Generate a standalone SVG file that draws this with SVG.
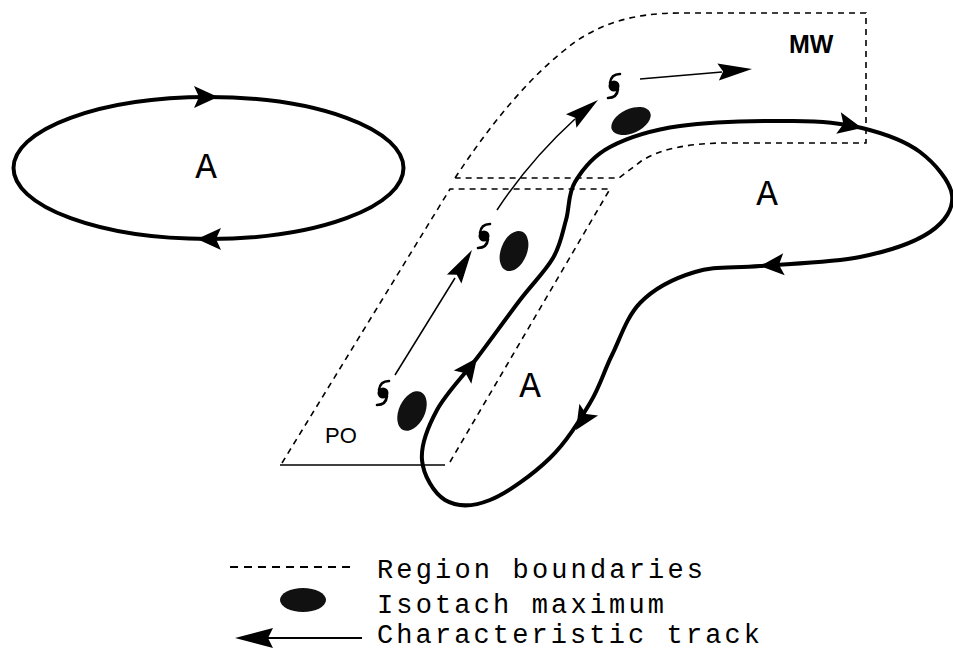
<svg xmlns="http://www.w3.org/2000/svg" xmlns:xlink="http://www.w3.org/1999/xlink" width="953" height="652" viewBox="0 0 953 652">
<style>
.track{fill:none;stroke:#000;stroke-width:4;stroke-linejoin:round;stroke-linecap:round}
.thin{fill:none;stroke:#000;stroke-width:1.5}
.dash{fill:none;stroke:#000;stroke-width:1.6;stroke-dasharray:6 5}
.solid{fill:none;stroke:#000;stroke-width:1.6}
.iso{fill:#111}
.ah{fill:#000}
.mono{font-family:"Liberation Mono","DejaVu Sans Mono",monospace;fill:#000}
.lab{font-family:"Liberation Sans",Arial,sans-serif;fill:#000}
</style>
<defs>
<path id="bigHead" d="M0,0 L-24,-11 L-19,0 L-24,11 Z"/>
<path id="thinHead" d="M0,0 L-34,-8.5 L-29,0 L-34,8.5 Z"/>
<g id="storm">
<circle cx="0" cy="0" r="5.5" fill="#000"/>
<path d="M-4,-3 Q-3,-12 6,-12" fill="none" stroke="#000" stroke-width="2.6" stroke-linecap="round"/>
<path d="M4,3 Q3,12 -6,12" fill="none" stroke="#000" stroke-width="2.6" stroke-linecap="round"/>
</g>
</defs>

<g id="regions">
<path class="dash" d="M455,178 C490,125 530,75 575,42 C600,25 630,13 680,13 L866,13 L866,143 L720,143 C690,144 660,148 640,162 L619,178 L455,178"/>
<path class="dash" d="M282,463 L450,189 L610,189 L450,462"/>
<path class="solid" d="M280,465 L445,465"/>
</g>

<g id="anticyclone-left">
<ellipse class="track" cx="208.5" cy="168" rx="195" ry="71"/>
<use xlink:href="#bigHead" class="ah" transform="translate(218,97)"/>
<use xlink:href="#bigHead" class="ah" transform="translate(197,239) rotate(180)"/>
<text class="mono" x="206" y="178" font-size="36" text-anchor="middle">A</text>
</g>

<g id="anticyclone-right">
<path class="track" d="M575,182 C582.3,169.8 592.5,156.3 610,147 C627.5,137.7 649.5,130.3 680,126 C710.5,121.7 762.7,120.7 793,121 C823.3,121.3 840.8,122.8 862,128 C883.2,133.2 905,140.8 920,152 C935,163.2 950.3,181.7 952,195 C953.7,208.3 945.3,221.7 930,232 C914.7,242.3 888.3,251.3 860,257 C831.7,262.7 787.8,263.7 760,266 C732.2,268.3 713,266 695,272 C675,278 653.5,289 640,303 C626.5,317 620.3,338.3 612,355 C603.7,371.7 600.3,385.8 590,403 C579.7,420.2 566.7,441.8 550,458 C533.3,474.2 507.5,493 490,500 C472.5,507 456.3,506.7 445,500 C433.7,493.3 423.3,475 422,460 C420.7,445 427.8,427 437,410 C446.2,393 463.2,376.3 477,358 C490.8,339.7 507.3,316.7 520,300 C532.7,283.3 545.3,271.3 553,258 C560.7,244.7 562.3,232.7 566,220 C569.7,207.3 567.7,194.2 575,182 Z"/>
<use xlink:href="#bigHead" class="ah" transform="translate(862,128) rotate(12)"/>
<use xlink:href="#bigHead" class="ah" transform="translate(760,266) rotate(176)"/>
<use xlink:href="#bigHead" class="ah" transform="translate(576,430) rotate(122)"/>
<use xlink:href="#bigHead" class="ah" transform="translate(477,358) rotate(-53)"/>
<text class="mono" x="767" y="205" font-size="36" text-anchor="middle">A</text>
<text class="mono" x="530" y="397" font-size="36" text-anchor="middle">A</text>
</g>

<g id="storms">
<use xlink:href="#storm" transform="translate(383,393)"/>
<use xlink:href="#storm" transform="translate(484,236)"/>
<use xlink:href="#storm" transform="translate(614,86)"/>
</g>

<g id="isotachs">
<ellipse class="iso" cx="412" cy="411" rx="13" ry="21" transform="rotate(25 412 411)"/>
<ellipse class="iso" cx="514" cy="251" rx="13" ry="21" transform="rotate(22 514 251)"/>
<ellipse class="iso" cx="631" cy="121" rx="21" ry="12" transform="rotate(-25 631 121)"/>
</g>

<g id="connectors">
<path class="thin" d="M395,375 L455,278"/>
<use xlink:href="#thinHead" class="ah" transform="translate(472,250) rotate(-58.4)"/>
<path class="thin" d="M497,210 Q530,160 575,119"/>
<use xlink:href="#thinHead" class="ah" transform="translate(598,100) rotate(-38)"/>
<path class="thin" d="M640,79 L722,72"/>
<use xlink:href="#thinHead" class="ah" transform="translate(752,69) rotate(-5)"/>
</g>

<g id="labels">
<text class="lab" x="789" y="53" font-size="25" font-weight="bold">MW</text>
<text class="lab" x="325" y="443" font-size="22">PO</text>
</g>

<g id="legend">
<path d="M230,567 L355,567" fill="none" stroke="#000" stroke-width="1.8" stroke-dasharray="8 6"/>
<ellipse class="iso" cx="303" cy="600" rx="23" ry="12"/>
<path d="M268,638 L362,638" fill="none" stroke="#000" stroke-width="2"/>
<path class="ah" d="M235,638 L273,628 L268,638 L273,648 Z"/>
<text class="mono" x="377" y="578" font-size="27" textLength="326" lengthAdjust="spacing">Region boundaries</text>
<text class="mono" x="377" y="613" font-size="27" textLength="287" lengthAdjust="spacing">Isotach maximum</text>
<text class="mono" x="377" y="643" font-size="27" textLength="383" lengthAdjust="spacing">Characteristic track</text>
</g>
</svg>
